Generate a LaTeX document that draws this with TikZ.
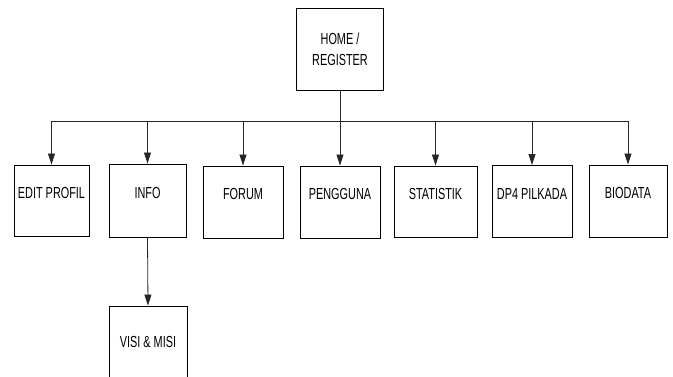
\documentclass[tikz,border=0pt]{standalone}
\usepackage{fontspec}
\setmainfont{Liberation Sans}[FakeStretch=0.68]
\usetikzlibrary{arrows.meta}
\begin{document}
\begin{tikzpicture}[x=1pt,y=-1pt,
  box/.style={draw=black,line width=0.9pt,rectangle,inner sep=0pt},
  lbl/.style={font=\fontsize{16}{21}\selectfont,align=center},
  conn/.style={draw=black!85,line width=0.8pt},
  arr/.style={conn,-{Triangle[width=7pt,length=11pt]}}]
\useasboundingbox (0,0) rectangle (673,376);
\clip (0,0) rectangle (673,376);
\node[box,minimum width=87pt,minimum height=82pt,lbl] (home) at (340,49) {HOME /\\REGISTER};
\node[box,minimum width=75pt,minimum height=71pt,label={[lbl,yshift=8pt]center:EDIT PROFIL}] (edit) at (51.5,200.5) {};
\node[box,minimum width=77pt,minimum height=73pt,label={[lbl,yshift=8pt]center:INFO}] (info) at (147.5,200.5) {};
\node[box,minimum width=80pt,minimum height=72pt,label={[lbl,yshift=8pt]center:FORUM}] (forum) at (243,202) {};
\node[box,minimum width=80pt,minimum height=72pt,label={[lbl,yshift=8pt]center:PENGGUNA}] (peng) at (340,202) {};
\node[box,minimum width=83pt,minimum height=71pt,label={[lbl,yshift=8pt]center:STATISTIK}] (stat) at (435.5,201.5) {};
\node[box,minimum width=80pt,minimum height=72pt,label={[lbl,yshift=8pt]center:DP4 PILKADA}] (dp4) at (532,201.5) {};
\node[box,minimum width=78pt,minimum height=72pt,label={[lbl,yshift=8pt]center:BIODATA}] (bio) at (628,201) {};
\node[box,minimum width=78pt,minimum height=72pt,label={[lbl]center:VISI \& MISI}] (visi) at (148,342) {};
\coordinate (bus) at (340,121);
\draw[conn] (home.south) -- (bus);
\draw[conn] (edit.north |- bus) -- (bio.north |- bus);
\foreach \n in {edit,info,forum,peng,stat,dp4,bio}
  \draw[arr] (\n.north |- bus) -- (\n.north);
\draw[arr] (info.south) -- (visi.north);
\end{tikzpicture}
\end{document}
